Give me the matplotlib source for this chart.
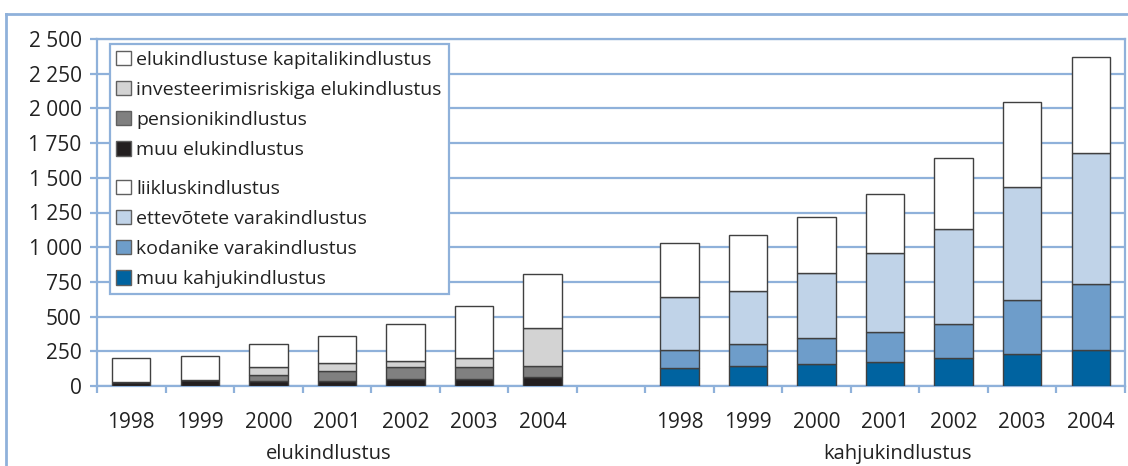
import matplotlib
matplotlib.use("Agg")
import matplotlib.pyplot as plt
from matplotlib.patches import Patch
from matplotlib.lines import Line2D
from matplotlib.ticker import FixedLocator

plt.rcParams['font.family'] = ['Open Sans', 'DejaVu Sans']

years = ['1998', '1999', '2000', '2001', '2002', '2003', '2004']

# elukindlustus (mln kr)
muu_elu = [30, 40, 36, 36, 50, 50, 64]
pension = [0, 0, 41, 69, 84, 84, 83]
invest = [0, 0, 57, 58, 43, 71, 271]
kapital = [172, 176, 169, 197, 272, 372, 390]

# kahjukindlustus (mln kr)
muu_kahju = [130, 145, 159, 173, 202, 233, 260]
kodanike = [129, 159, 186, 214, 242, 383, 473]
ettevotete = [385, 383, 470, 571, 685, 815, 945]
liiklus = [388, 399, 400, 428, 514, 617, 695]

group_names = ['elukindlustus', 'kahjukindlustus']
y_ticks = [0, 250, 500, 750, 1000, 1250, 1500, 1750, 2000, 2250, 2500]

elu_series = [
    ('muu elukindlustus', muu_elu, '#231f20'),
    ('pensionikindlustus', pension, '#808080'),
    ('investeerimisriskiga elukindlustus', invest, '#d3d3d3'),
    ('elukindlustuse kapitalikindlustus', kapital, '#ffffff'),
]
kahju_series = [
    ('muu kahjukindlustus', muu_kahju, '#0063a0'),
    ('kodanike varakindlustus', kodanike, '#6e9dca'),
    ('ettevõtete varakindlustus', ettevotete, '#c0d3e8'),
    ('liikluskindlustus', liiklus, '#ffffff'),
]

blue = '#8fb1da'
txt = '#222222'
edge = '#404040'

W, H = 1128, 466
fig = plt.figure(figsize=(W / 100, H / 100), dpi=100)
ax = fig.add_axes([97 / W, 1 - 386 / H, (1125 - 97) / W, (386 - 39) / H])

x_elu = list(range(7))
x_kahju = [i + 8 for i in range(7)]
bw = 0.56

for xs, series in ((x_elu, elu_series), (x_kahju, kahju_series)):
    bottom = [0] * 7
    for name, vals, col in series:
        ax.bar(xs, vals, bw, bottom=bottom, color=col, edgecolor=edge,
               linewidth=1.0, zorder=3)
        bottom = [b + v for b, v in zip(bottom, vals)]

ax.set_xlim(-0.5, 14.5)
ax.set_ylim(0, 2500)

ax.set_yticks(y_ticks)
ax.set_yticklabels([f'{v:,}'.replace(',', ' ') for v in y_ticks])
ax.yaxis.grid(True, color=blue, linewidth=1.6, zorder=0)
ax.set_axisbelow(True)

ax.set_xticks(x_elu + x_kahju)
ax.set_xticklabels(years + years)
ax.xaxis.set_minor_locator(FixedLocator([i - 0.5 for i in range(16)]))
ax.tick_params(axis='x', which='major', length=0, pad=19, labelsize=15, labelcolor=txt)
ax.tick_params(axis='x', which='minor', length=5, width=1.6, color=blue, direction='out')
ax.tick_params(axis='y', length=5, width=1.6, color=blue, pad=6, labelsize=15, labelcolor=txt)

for s in ax.spines.values():
    s.set_color(blue)
    s.set_linewidth(1.6)

ax.text(2.885, -0.195, group_names[0], transform=ax.get_xaxis_transform(),
        ha='center', va='center', fontsize=14.5, color=txt)
ax.text(11.18, -0.195, group_names[1], transform=ax.get_xaxis_transform(),
        ha='center', va='center', fontsize=14.5, color=txt)

# legend: two blocks with a small gap, one frame around both
def handles(series):
    return [Patch(facecolor=c, edgecolor='#606060', linewidth=1.0, label=n)
            for n, v, c in reversed(series)]

leg_kw = dict(frameon=False, fontsize=14, handlelength=0.75, handleheight=0.75,
              handletextpad=0.3, labelspacing=0.62, borderaxespad=0, borderpad=0,
              labelcolor=txt)
leg1 = fig.legend(handles=handles(elu_series), loc='upper left',
                  bbox_to_anchor=(116 / W, 1 - 51 / H), **leg_kw)
leg2 = fig.legend(handles=handles(kahju_series), loc='upper left',
                  bbox_to_anchor=(116 / W, 1 - 180 / H), **leg_kw)

frame = plt.Rectangle((110 / W, 1 - 294 / H), (449 - 110) / W, (294 - 44) / H,
                      transform=fig.transFigure, facecolor='white', edgecolor=blue,
                      linewidth=1.6, zorder=4)
fig.add_artist(frame)
leg1.set_zorder(5)
leg2.set_zorder(5)

# outer border
fig.add_artist(Line2D([6 / W, 6 / W], [0, 1 - 14 / H], color=blue, linewidth=2))
fig.add_artist(Line2D([6 / W, 1], [1 - 14 / H, 1 - 14 / H], color=blue, linewidth=2))

fig.savefig('out.png', dpi=100)
